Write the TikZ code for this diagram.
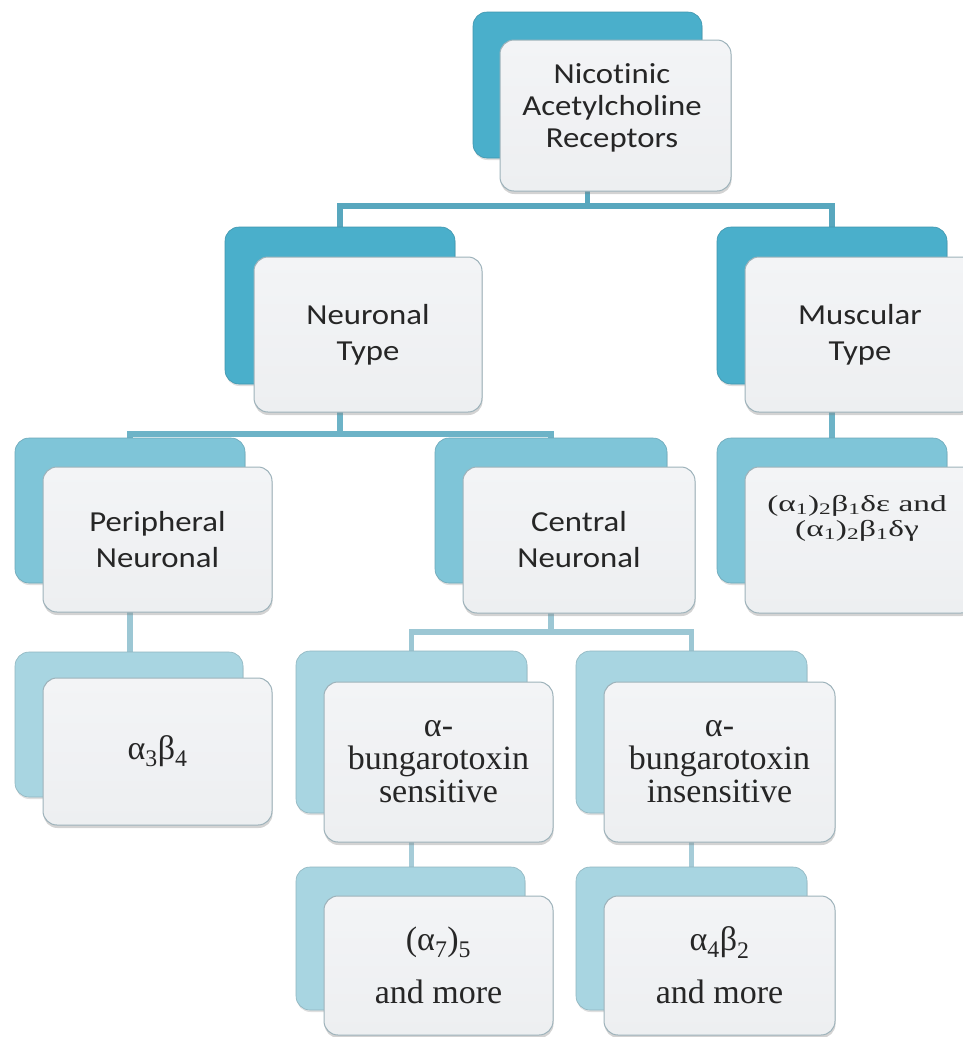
\documentclass[tikz,border=0pt]{standalone}
\usepackage{fontspec}
\setmainfont{Liberation Serif}
\newfontfamily\calib[FakeStretch=1.13, Ligatures=CommonOff]{Carlito}
\newfontfamily\widser[FakeStretch=1.45]{Liberation Serif}
\usetikzlibrary{shadows,backgrounds}
\definecolor{cA}{HTML}{4AAFCB}
\definecolor{cAl}{HTML}{8FE3F3}
\definecolor{cB}{HTML}{7FC5D8}
\definecolor{cBl}{HTML}{B8EEF7}
\definecolor{cC}{HTML}{A8D5E1}
\definecolor{cCl}{HTML}{D6F1F7}
\definecolor{fTop}{HTML}{F3F4F6}
\definecolor{fBot}{HTML}{EDEFF1}
\definecolor{fLine}{HTML}{9DB2BA}
\definecolor{lnA}{HTML}{58A7BE}
\definecolor{lnB}{HTML}{6DB3C7}
\definecolor{lnC}{HTML}{9CC7D4}
\definecolor{lnD}{HTML}{A6CCD8}
\pgfdeclareverticalshading{shA}{100bp}{color(0bp)=(cA); color(84bp)=(cA); color(94bp)=(cAl); color(100bp)=(cAl)}
\pgfdeclareverticalshading{shB}{100bp}{color(0bp)=(cB); color(84bp)=(cB); color(94bp)=(cBl); color(100bp)=(cBl)}
\pgfdeclareverticalshading{shC}{100bp}{color(0bp)=(cC); color(84bp)=(cC); color(94bp)=(cCl); color(100bp)=(cCl)}
\tikzset{
  backbox/.style={rounded corners=14pt, inner sep=0pt, line width=0.6pt,
    drop shadow={shadow xshift=0.5pt, shadow yshift=-2pt, opacity=0.25, fill=black!50}},
  backA/.style={backbox, shading=shA, draw=cA!85!black},
  backB/.style={backbox, shading=shB, draw=cB!85!black},
  backC/.style={backbox, shading=shC, draw=cC!85!black},
  frontbox/.style={rounded corners=14pt, inner sep=0pt, draw=fLine, line width=1pt,
    top color=fTop, bottom color=fBot, align=center, text=black!85,
    drop shadow={shadow xshift=0.5pt, shadow yshift=-3pt, opacity=0.35, fill=black!50}},
  txt/.style={align=center, text=black!85, inner sep=0pt},
  rootT/.style={txt, font=\calib\fontsize{29}{32}\selectfont},
  sansT/.style={font=\calib\fontsize{29}{36}\selectfont},
  serT/.style={font=\fontsize{34}{33}\selectfont},
  smallT/.style={txt, font=\widser\fontsize{23}{25}\selectfont},
  conA/.style={draw=lnA, line width=5.5pt},
  conB/.style={draw=lnB, line width=5.5pt},
  conC/.style={draw=lnC, line width=5.5pt},
  conD/.style={draw=lnD, line width=5.5pt},
}
\begin{document}
\begin{tikzpicture}[x=1pt,y=-1pt]
\useasboundingbox (0,0) rectangle (963,1037);
\clip (0,0) rectangle (963,1037);
% root
\node[backA, minimum width=229pt, minimum height=146pt] (rootB) at (587.5,85) {};
\node[frontbox, minimum width=231pt, minimum height=151pt] (root) at (615.5,115.5) {};
\node[rootT] (rootTx) at (612,108) {Nicotinic\\Acetylcholine\\Receptors};
% level 1
\node[backA, minimum width=230pt, minimum height=157pt] (neuB) at (340,305.5) {};
\node[frontbox, sansT, minimum width=228pt, minimum height=155pt] (neu) at (368,334.5) {Neuronal\\Type};
\node[backA, minimum width=230pt, minimum height=157pt] (musB) at (832,305.5) {};
\node[frontbox, sansT, minimum width=230pt, minimum height=155pt] (mus) at (860,334.5) {Muscular\\Type};
% level 2
\node[backB, minimum width=230pt, minimum height=145pt] (periB) at (130,510.5) {};
\node[frontbox, sansT, minimum width=229pt, minimum height=145pt] (peri) at (157.5,539.5) {Peripheral\\Neuronal};
\node[backB, minimum width=232pt, minimum height=145pt] (centB) at (551,510.5) {};
\node[frontbox, sansT, minimum width=232pt, minimum height=146pt] (cent) at (579,540) {Central\\Neuronal};
\node[backB, minimum width=230pt, minimum height=145pt] (msubB) at (832,510.5) {};
\node[frontbox, minimum width=230pt, minimum height=146pt] (msub) at (860,540) {};
\node[smallT] (msubT) at (857,518) {(α\textsubscript{1})\textsubscript{2}β\textsubscript{1}δε and\\(α\textsubscript{1})\textsubscript{2}β\textsubscript{1}δγ};
% level 3
\node[backC, minimum width=228pt, minimum height=145pt] (a34B) at (129,724.5) {};
\node[frontbox, serT, minimum width=229pt, minimum height=147pt] (a34) at (157.5,751.5) {α\textsubscript{3}β\textsubscript{4}};
\node[backC, minimum width=231pt, minimum height=162pt] (sensB) at (411.5,732) {};
\node[frontbox, serT, minimum width=229pt, minimum height=160pt] (sens) at (438.5,762) {α-\\bungarotoxin\\sensitive};
\node[backC, minimum width=231pt, minimum height=162pt] (insB) at (691.5,732) {};
\node[frontbox, serT, minimum width=231pt, minimum height=160pt] (ins) at (719.5,762) {α-\\bungarotoxin\\insensitive};
% level 4
\node[backC, minimum width=229pt, minimum height=143pt] (a7B) at (410.5,938.5) {};
\node[frontbox, serT, minimum width=229pt, minimum height=139pt] (a7) at (438.5,965.5) {(α\textsubscript{7})\textsubscript{5}\\[20pt]and more};
\node[backC, minimum width=231pt, minimum height=143pt] (a42B) at (691.5,938.5) {};
\node[frontbox, serT, minimum width=231pt, minimum height=139pt] (a42) at (719.5,965.5) {α\textsubscript{4}β\textsubscript{2}\\[20pt]and more};
% connectors
\coordinate (bus0) at (0,206);
\coordinate (bus1) at (0,434);
\coordinate (bus2) at (0,632);
\begin{pgfonlayer}{background}
\draw[conA] (rootB.center) -- (rootB |- bus0) -| (neuB.center);
\draw[conA] (rootB |- bus0) -| (musB.center);
\draw[conB] (neuB.center) -- (neuB |- bus1) -| (periB.center);
\draw[conB] (neuB |- bus1) -| (centB.center);
\draw[conB] (musB.center) -- (msubB.center);
\draw[conC] (periB.center) -- (periB |- a34B.center);
\draw[conC] (centB.center) -- (centB |- bus2) -| (sensB.center);
\draw[conC] (centB |- bus2) -| (insB.center);
\draw[conD] (sensB.center) -- (sensB |- a7B.center);
\draw[conD] (insB.center) -- (insB |- a42B.center);
\end{pgfonlayer}
\end{tikzpicture}
\end{document}
